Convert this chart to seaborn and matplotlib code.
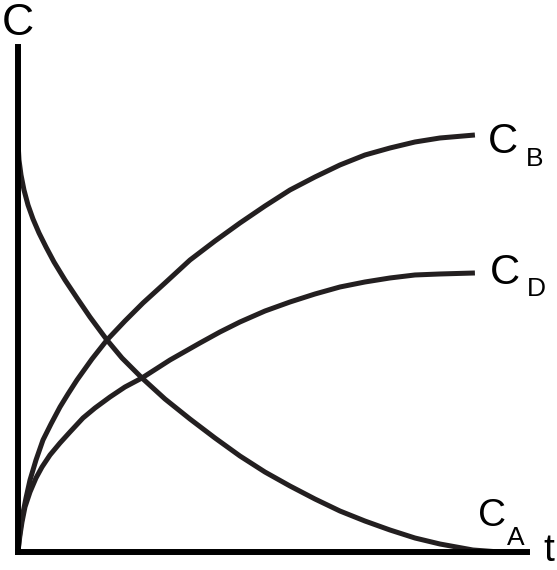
import seaborn as sns
import pandas as pd
import matplotlib.pyplot as plt

# Concentration vs time, schematic (arbitrary units, 0-100)
t_a = [0, 0.22, 0.66, 1.31, 2.19, 3.28, 4.60, 6.13, 7.88, 10.28, 12.91, 15.75, 19.47, 22.76, 27.13,
       32.17, 37.64, 43.11, 48.58, 54.05, 59.52, 64.99, 70.46, 75.93, 81.40, 86.87, 92.34, 99.56, 105.47]
c_a = [98.32, 94.00, 90.41, 86.81, 83.21, 79.86, 76.50, 73.14, 69.54, 65.23, 60.91, 56.35, 50.84, 46.52, 41.73,
       36.69, 31.89, 27.34, 23.02, 19.18, 15.83, 12.71, 9.83, 7.43, 5.28, 3.36, 1.92, 0.48, 0]

t_b = [0, 0.22, 0.44, 0.66, 1.09, 1.75, 2.63, 3.94, 5.47, 7.22, 9.19, 10.94, 12.91, 16.19, 19.47,
       23.41, 27.35, 32.17, 37.64, 43.11, 48.58, 54.05, 59.52, 64.99, 70.46, 75.93, 81.40, 86.87, 92.34, 100]
c_b = [0, 2.64, 4.80, 6.71, 9.35, 12.95, 17.27, 22.06, 26.86, 30.70, 34.77, 37.89, 41.25, 46.28, 50.84,
       55.40, 59.71, 64.51, 70.02, 74.58, 78.90, 82.97, 86.81, 89.93, 92.81, 95.20, 96.88, 98.32, 99.28, 100]

t_d = [0, 0.22, 0.44, 0.88, 1.53, 2.63, 3.94, 5.25, 7.00, 9.19, 11.38, 14.22, 16.85, 20.13, 23.41,
       27.13, 33.26, 39.82, 44.20, 48.58, 54.05, 59.52, 64.99, 70.46, 75.93, 81.40, 86.87, 92.34, 100]
c_d = [0, 2.16, 4.08, 7.19, 10.79, 14.39, 17.75, 20.38, 23.26, 26.14, 28.78, 32.13, 34.53, 37.17, 39.57,
       41.73, 46.04, 50.12, 52.76, 55.16, 57.79, 59.95, 61.87, 63.55, 64.75, 65.71, 66.43, 66.67, 66.91]

W, H = 557, 570
curve_color = '#231f20'

sns.set_style("white")
plt.rcParams['font.family'] = ['Liberation Sans', 'DejaVu Sans']

fig = plt.figure(figsize=(W / 100, H / 100), dpi=100)
ax = fig.add_axes([18 / W, (H - 552) / H, (527 - 18) / W, (552 - 47) / H])

for t, c in [(t_a, c_a), (t_b, c_b), (t_d, c_d)]:
    df = pd.DataFrame({'t': t, 'C': c})
    sns.lineplot(data=df, x='t', y='C', ax=ax, color=curve_color, lw=3.6,
                 estimator=None, sort=False, solid_capstyle='butt', solid_joinstyle='round')

ax.set_xlim(0, 111.4)
ax.set_ylim(0, 121.1)
ax.set_xticks([])
ax.set_yticks([])
ax.set_xlabel('')
ax.set_ylabel('')
for side in ['top', 'right']:
    ax.spines[side].set_visible(False)
for side in ['left', 'bottom']:
    ax.spines[side].set_linewidth(4.3)
    ax.spines[side].set_color('black')


# labels placed in pixel coords (baseline)
def label(x, y, s, size):
    fig.text(x / W, 1 - y / H, s, fontsize=size, ha='left', va='baseline', color='black')


label(2, 35, 'C', 32)
label(543, 561, 't', 28)
label(488, 153, 'C', 30)
label(526, 166, 'B', 19)
label(490, 284, 'C', 30)
label(527, 296, 'D', 19)
label(478, 526, 'C', 28)
label(507, 545, 'A', 19)

fig.savefig('out.png', dpi=100)
